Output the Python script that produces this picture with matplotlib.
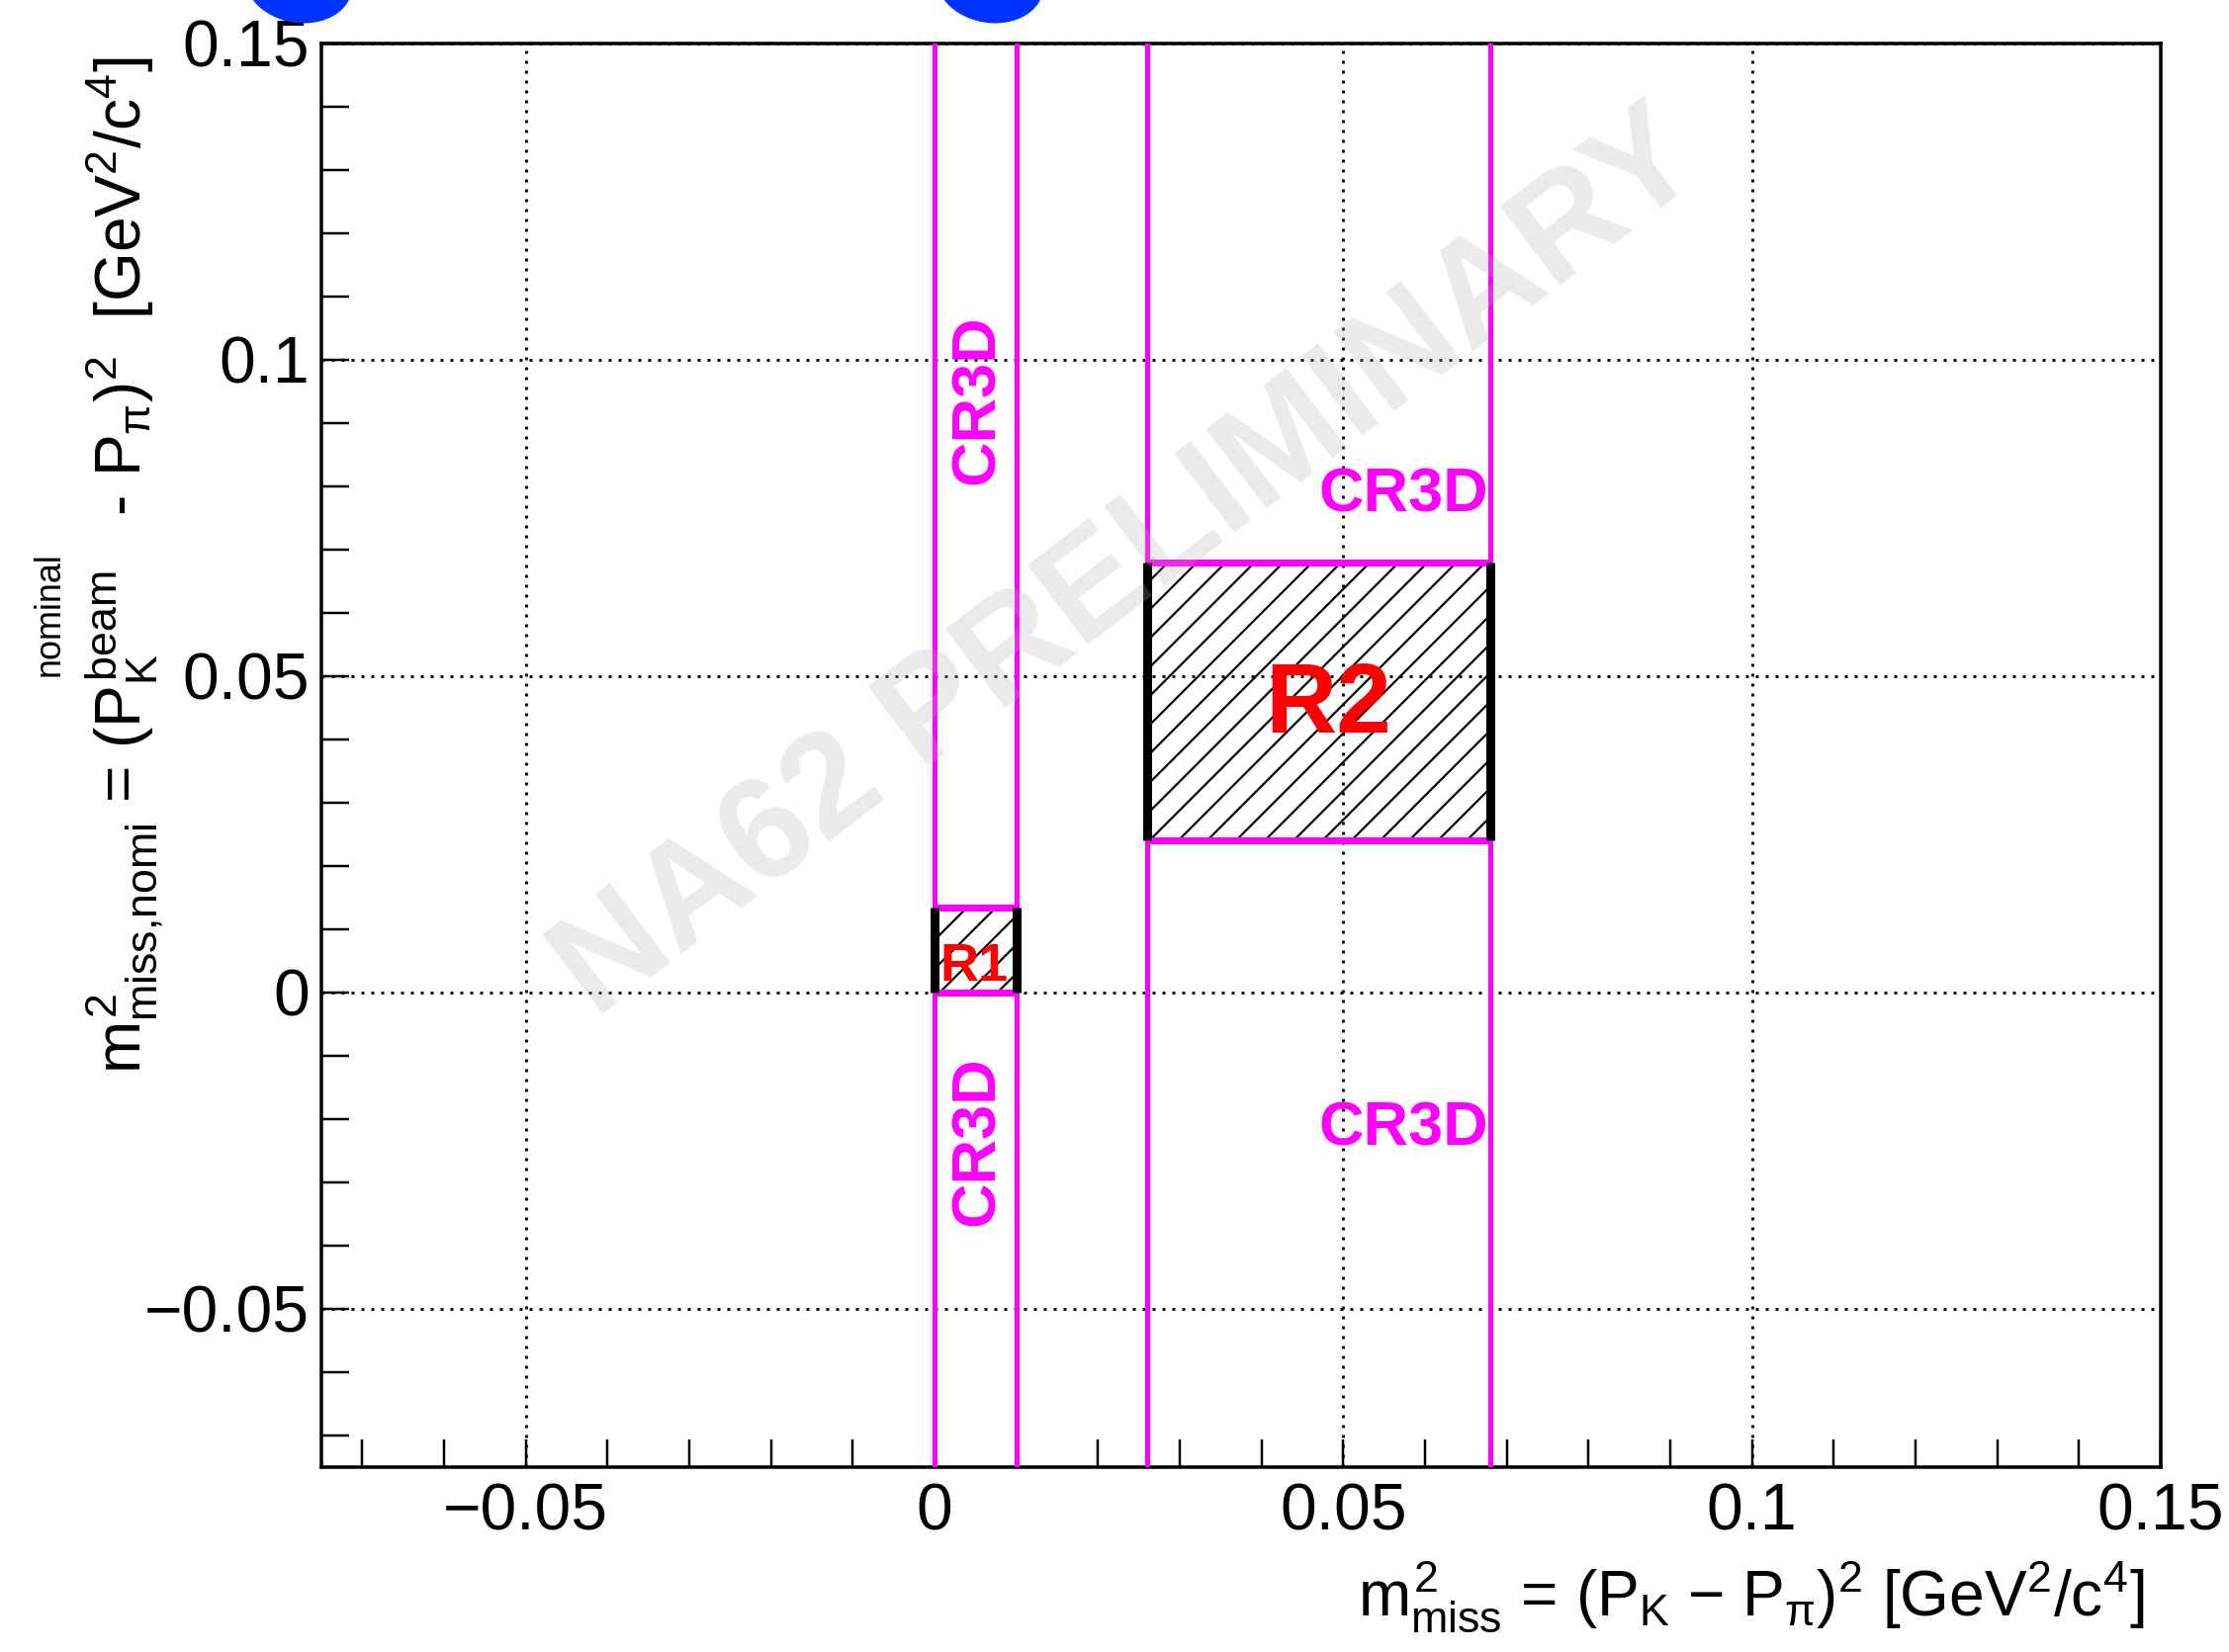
import matplotlib
matplotlib.use('Agg')
import matplotlib.pyplot as plt
from matplotlib.patches import Rectangle, Ellipse
from matplotlib.ticker import FixedLocator, MultipleLocator
from matplotlib.transforms import IdentityTransform

DPI = 175
W, H = 2254, 1671


def P(px):
    return px * 72.0 / DPI


# ---------------- data ----------------
x_range = [-0.075, 0.15]
y_range = [-0.075, 0.15]
x_major = [-0.05, 0.0, 0.05, 0.10, 0.15]
y_major = [-0.05, 0.0, 0.05, 0.10, 0.15]
x_tick_labels = ['\u22120.05', '0', '0.05', '0.1', '0.15']
y_tick_labels = ['\u22120.05', '0', '0.05', '0.1', '0.15']
minor_step = 0.01

region_names = ['R1', 'R2']
region_x_lo = [0.0, 0.026]
region_x_hi = [0.010, 0.068]
region_y_lo = [0.0, 0.024]
region_y_hi = [0.0135, 0.068]
region_label_x = [0.0048, 0.0482]
region_label_y = [0.0041, 0.0452]
region_label_px = [54, 100]

cr_label = ['CR3D', 'CR3D', 'CR3D', 'CR3D']
cr_label_x = [0.0053, 0.0053, 0.0574, 0.0574]
cr_label_y = [0.0937, -0.0235, 0.0786, -0.0215]
cr_label_rot = [90, 90, 0, 0]

watermark = 'NA62 PRELIMINARY'
watermark_xy = (0.0238, 0.0674)

x_title = r'$m^{2}_{miss}$ = $(P_{K}$ ' + '\u2212' + r' $P_{\pi})^{2}$ [GeV$^{2}$/c$^{4}$]'
y_title = r'$m^{2}_{miss{,}nomi}$ = $(P^{beam}_{K}$   - $P_{\pi})^{2}$  [GeV$^{2}$/c$^{4}$]'
y_title_extra = 'nominal'

MAGENTA = '#ff00ff'
RED = '#ff0000'

# ---------------- style ----------------
plt.rcParams['font.family'] = ['Liberation Sans', 'DejaVu Sans']
plt.rcParams['mathtext.fontset'] = 'custom'
plt.rcParams['mathtext.rm'] = 'Liberation Sans'
plt.rcParams['mathtext.it'] = 'Liberation Sans'
plt.rcParams['mathtext.bf'] = 'Liberation Sans:bold'
plt.rcParams['mathtext.sf'] = 'Liberation Sans'
plt.rcParams['hatch.linewidth'] = P(2.2)
plt.rcParams['lines.scale_dashes'] = False

fig = plt.figure(figsize=(W / DPI, H / DPI), dpi=DPI)
left, right, top, bottom = 325, 2185, 44, 1484
ax = fig.add_axes([left / W, 1 - bottom / H, (right - left) / W, (bottom - top) / H])
ax.set_xlim(*x_range)
ax.set_ylim(*y_range)

for s in ax.spines.values():
    s.set_linewidth(P(3.5))
    s.set_color('black')

ax.xaxis.set_major_locator(FixedLocator(x_major))
ax.yaxis.set_major_locator(FixedLocator(y_major))
ax.set_xticklabels(x_tick_labels)
ax.set_yticklabels(y_tick_labels)
ax.xaxis.set_minor_locator(MultipleLocator(minor_step))
ax.yaxis.set_minor_locator(MultipleLocator(minor_step))
ax.tick_params(which='both', direction='in', length=P(28), width=P(2.5),
               top=False, right=False, color='black')
ax.tick_params(axis='x', which='major', labelsize=P(66), pad=P(16))
ax.tick_params(axis='y', which='major', labelsize=P(66), pad=P(12))

ax.grid(True, which='major', color='black', linestyle=(0, (P(3), P(7))),
        linewidth=P(2.8), zorder=1)
ax.set_axisbelow(True)

# region boxes
for i in range(len(region_names)):
    x0, x1 = region_x_lo[i], region_x_hi[i]
    y0, y1 = region_y_lo[i], region_y_hi[i]
    ax.add_patch(Rectangle((x0, y0), x1 - x0, y1 - y0, facecolor='none',
                           edgecolor='black', linewidth=0, hatch='//', zorder=2))
    ax.axvline(x0, color=MAGENTA, linewidth=P(5), zorder=3)
    ax.axvline(x1, color=MAGENTA, linewidth=P(5), zorder=3)
    ax.plot([x0, x1], [y0, y0], color=MAGENTA, linewidth=P(7), zorder=4,
            solid_capstyle='butt')
    ax.plot([x0, x1], [y1, y1], color=MAGENTA, linewidth=P(7), zorder=4,
            solid_capstyle='butt')
    ax.plot([x0, x0], [y0, y1], color='black', linewidth=P(9), zorder=5,
            solid_capstyle='butt')
    ax.plot([x1, x1], [y0, y1], color='black', linewidth=P(9), zorder=5,
            solid_capstyle='butt')

for i in range(len(region_names)):
    ax.text(region_label_x[i], region_label_y[i], region_names[i], color=RED,
            fontsize=P(region_label_px[i]), fontweight='bold',
            ha='center', va='center', zorder=6)

for lab, x, y, r in zip(cr_label, cr_label_x, cr_label_y, cr_label_rot):
    ax.text(x, y, lab, color=MAGENTA, fontsize=P(63), fontweight='bold',
            rotation=r, ha='center', va='center', zorder=6)

# watermark
ax.text(watermark_xy[0], watermark_xy[1], watermark, color='#b0b0b0', alpha=0.25,
        fontsize=P(146), fontweight='bold', rotation=37.3, ha='center',
        va='center', rotation_mode='anchor', zorder=7)

# axis titles
fig.text(2168 / W, 1 - 1615 / H, x_title, fontsize=P(64), ha='right', va='center')
fig.text(126 / W, 1 - 57 / H, y_title, fontsize=P(64), rotation=90,
         ha='center', va='top')
fig.text(50 / W, 1 - 621 / H, y_title_extra, fontsize=P(36), rotation=90,
         ha='center', va='center')

# blue shapes cut off at the top edge
for cx in (302, 1001):
    fig.add_artist(Ellipse((cx, H + 18), 109, 82, angle=-10,
                           transform=IdentityTransform(), facecolor='#0033ff',
                           edgecolor='none'))

fig.savefig('out.png', dpi=DPI)
